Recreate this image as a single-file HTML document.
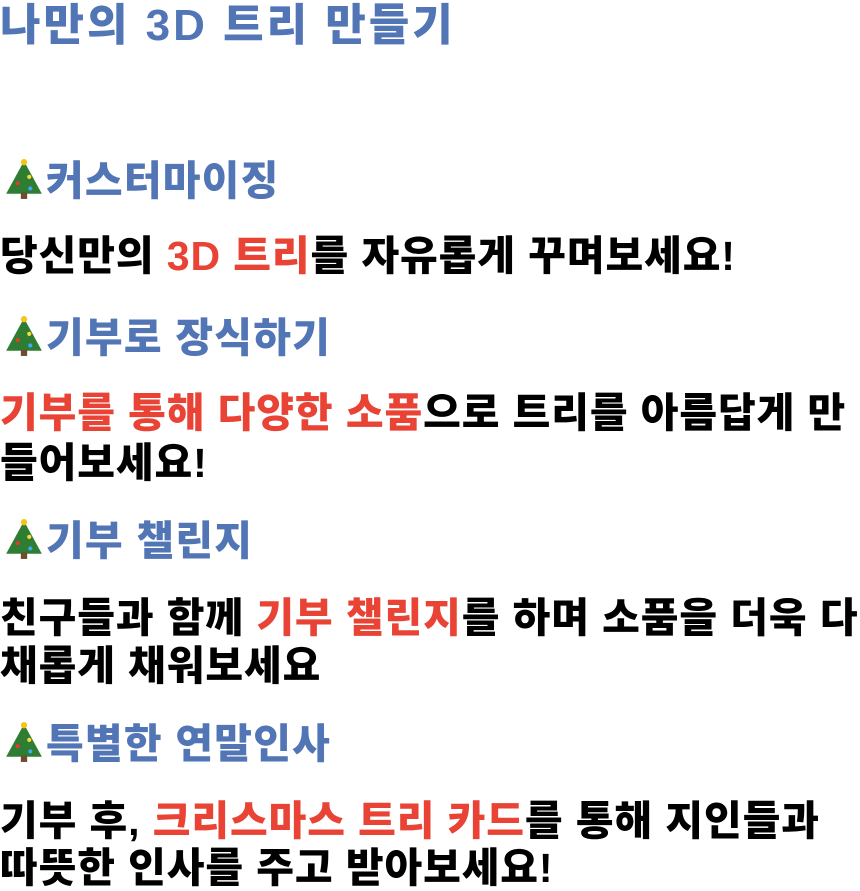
<!DOCTYPE html>
<html><head><meta charset="utf-8"><style>
html,body{margin:0;padding:0;background:#fff;width:860px;height:891px;overflow:hidden}
body{position:relative;font-family:"Liberation Sans","Noto Sans CJK KR",sans-serif;font-weight:900}
.l{position:absolute;left:0;white-space:nowrap;line-height:1;font-size:41px;color:#000;letter-spacing:0.9px}
.b{color:#5275b5;letter-spacing:1.2px}
.r{color:#e94335}
.t{display:inline-block;width:48px;height:42px;vertical-align:-5px;margin-right:-2px}
</style></head><body>
<div class="l b" style="top:4px;font-size:44px;letter-spacing:3px">나만의 3D 트리 만들기</div>

<div class="l b" style="top:158px"><svg class="t" viewBox="0 0 44 40"><polygon points="22,3 5,34 39,34" fill="#2e7d32"/><rect x="19" y="33" width="6" height="6" fill="#6d4c2f"/><circle cx="22" cy="4" r="3" fill="#f5c518"/><circle cx="16" cy="24" r="2" fill="#e53935"/><circle cx="27" cy="18" r="2" fill="#fdd835"/><circle cx="28" cy="29" r="2" fill="#42a5f5"/></svg>커스터마이징</div>
<div class="l" style="top:236px">당신만의 <span class="r">3D 트리</span>를 자유롭게 꾸며보세요!</div>

<div class="l b" style="top:315px"><svg class="t" viewBox="0 0 44 40"><polygon points="22,3 5,34 39,34" fill="#2e7d32"/><rect x="19" y="33" width="6" height="6" fill="#6d4c2f"/><circle cx="22" cy="4" r="3" fill="#f5c518"/><circle cx="16" cy="24" r="2" fill="#e53935"/><circle cx="27" cy="18" r="2" fill="#fdd835"/><circle cx="28" cy="29" r="2" fill="#42a5f5"/></svg>기부로 장식하기</div>
<div class="l" style="top:393px"><span class="r">기부를 통해 다양한 소품</span>으로 트리를 아름답게 만</div>
<div class="l" style="top:443px">들어보세요!</div>

<div class="l b" style="top:518px"><svg class="t" viewBox="0 0 44 40"><polygon points="22,3 5,34 39,34" fill="#2e7d32"/><rect x="19" y="33" width="6" height="6" fill="#6d4c2f"/><circle cx="22" cy="4" r="3" fill="#f5c518"/><circle cx="16" cy="24" r="2" fill="#e53935"/><circle cx="27" cy="18" r="2" fill="#fdd835"/><circle cx="28" cy="29" r="2" fill="#42a5f5"/></svg>기부 챌린지</div>
<div class="l" style="top:598px">친구들과 함께 <span class="r">기부 챌린지</span>를 하며 소품을 더욱 다</div>
<div class="l" style="top:646px">채롭게 채워보세요</div>

<div class="l b" style="top:721px"><svg class="t" viewBox="0 0 44 40"><polygon points="22,3 5,34 39,34" fill="#2e7d32"/><rect x="19" y="33" width="6" height="6" fill="#6d4c2f"/><circle cx="22" cy="4" r="3" fill="#f5c518"/><circle cx="16" cy="24" r="2" fill="#e53935"/><circle cx="27" cy="18" r="2" fill="#fdd835"/><circle cx="28" cy="29" r="2" fill="#42a5f5"/></svg>특별한 연말인사</div>
<div class="l" style="top:801px">기부 후, <span class="r">크리스마스 트리 카드</span>를 통해 지인들과</div>
<div class="l" style="top:848px">따뜻한 인사를 주고 받아보세요!</div>
</body></html>
